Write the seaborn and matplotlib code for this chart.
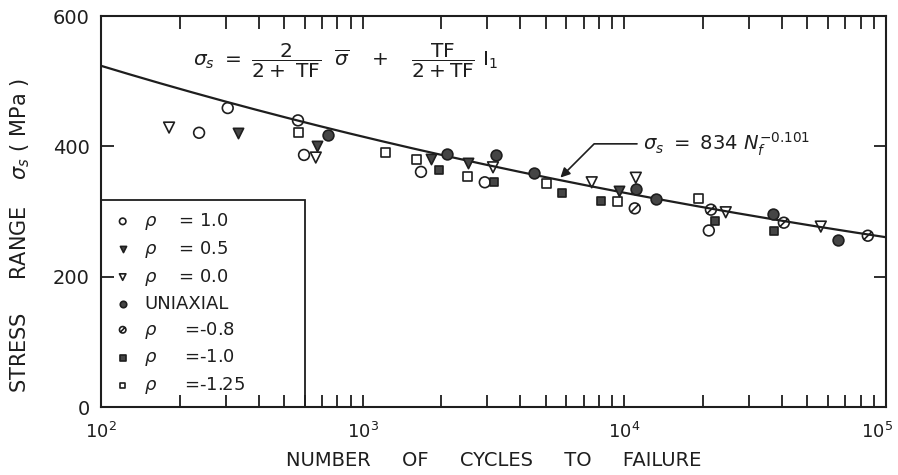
import numpy as np
import pandas as pd
import matplotlib
matplotlib.use("Agg")
import matplotlib.pyplot as plt
import matplotlib.transforms as mtransforms
from matplotlib.path import Path
from matplotlib.ticker import LogLocator, FixedLocator, NullFormatter
import seaborn as sns

# ---- data ----
rho10_N = [237, 305, 566, 597, 1671, 2930, 21050]
rho10_S = [421, 459, 440, 387, 361, 345, 271]
rho05_N = [334, 669, 1824, 2525, 9530]
rho05_S = [421, 400, 381, 374, 332]
rho00_N = [182, 662, 3150, 7510, 11070, 24430, 56400]
rho00_S = [429, 383, 368, 345, 352, 299, 277]
uni_N = [736, 2100, 3228, 4520, 11070, 13210, 36990, 65500]
uni_S = [418, 389, 387, 360, 334, 319, 297, 256]
rm08_N = [10970, 21440, 40740, 85300]
rm08_S = [305, 303, 283, 263]
rm10_N = [1960, 3175, 5780, 8140, 22190, 37330]
rm10_S = [364, 345, 328, 317, 285, 270]
rm125_N = [571, 1227, 1611, 2525, 5060, 9460, 19270]
rm125_S = [421, 391, 380, 354, 343, 315, 320]

labels = [r"$\rho$    = 1.0", r"$\rho$    = 0.5", r"$\rho$    = 0.0", "UNIAXIAL",
          r"$\rho$     =-0.8", r"$\rho$     =-1.0", r"$\rho$     =-1.25"]

x_ticks = [1e2, 1e3, 1e4, 1e5]
x_ticklabels = [r"$10^2$", r"$10^3$", r"$10^4$", r"$10^5$"]
y_ticks = [0, 200, 400, 600]

fit_A = 834
fit_b = -0.101

sns.set_style("ticks")
plt.rcParams["font.family"] = ["DejaVu Sans"]
plt.rcParams["mathtext.fontset"] = "dejavusans"

INK = "#1e1e1e"
FILL = "#454545"

fig = plt.figure(figsize=(8.98, 4.75), dpi=100)
ax = fig.add_axes([0.1125, 0.143, 0.874, 0.823])

# fitted line
Ngrid = np.logspace(2, 5, 200)
line_df = pd.DataFrame({"N": Ngrid, "S": fit_A * Ngrid ** fit_b})
sns.lineplot(data=line_df, x="N", y="S", color=INK, lw=1.6, ax=ax, legend=False)

slashed = Path.make_compound_path(
    Path.unit_circle(),
    Path([[-0.72, -0.72], [0.72, 0.72]], [Path.MOVETO, Path.LINETO]))

series = [
    (rho10_N, rho10_S, "o", "none", 60),
    (rho05_N, rho05_S, "v", FILL, 55),
    (rho00_N, rho00_S, "v", "none", 60),
    (uni_N, uni_S, "o", FILL, 60),
    (rm08_N, rm08_S, slashed, "none", 60),
    (rm10_N, rm10_S, "s", FILL, 40),
    (rm125_N, rm125_S, "s", "none", 42),
]
for (N, S, mk, fc, size), lab in zip(series, labels):
    df = pd.DataFrame({"N": N, "S": S})
    sns.scatterplot(data=df, x="N", y="S", marker=mk, s=size, facecolor=fc,
                    edgecolor=INK, linewidth=1.2, ax=ax, label=lab, zorder=3)

ax.set_xscale("log")
ax.set_xlim(100, 1e5)
ax.set_ylim(0, 600)
ax.yaxis.set_major_locator(FixedLocator(y_ticks))
ax.set_xticks(x_ticks, labels=x_ticklabels)
ax.xaxis.set_minor_locator(LogLocator(base=10, subs=np.arange(2, 10)))
ax.xaxis.set_minor_formatter(NullFormatter())
ax.tick_params(which="both", direction="in", top=True, right=True, colors=INK,
               labelsize=14, width=1.3)
ax.tick_params(which="major", length=9, pad=8)
ax.tick_params(axis="x", which="major", pad=11, labelsize=13)
ax.tick_params(which="minor", length=9)
for sp in ax.spines.values():
    sp.set_color(INK)
    sp.set_linewidth(1.5)

ax.set_xlabel("NUMBER     OF     CYCLES     TO     FAILURE", fontsize=14, color=INK,
              labelpad=6)
ax.set_ylabel(r"STRESS     RANGE    $\sigma_s$ ( MPa )", fontsize=15, color=INK)
ax.yaxis.set_label_coords(-0.088, 0.44)

# formula text
ax.text(225, 531,
        r"$\sigma_s\ =\ \dfrac{2}{2+\ \mathrm{TF}}\ \ \overline{\sigma}\ \ \ +\ \ \ \dfrac{\mathrm{TF}}{2+\mathrm{TF}}\ \mathrm{I}_1$",
        fontsize=14.5, color=INK, va="center", ha="left")

# fit annotation
Ntip = 5700
ax.annotate(r"$\sigma_s\ =\ 834\ N_f^{-0.101}$",
            xy=(Ntip, fit_A * Ntip ** fit_b + 4), xytext=(11800, 404),
            fontsize=14, color=INK, va="center", ha="left",
            arrowprops=dict(arrowstyle="-|>", color=INK, lw=1.2,
                            connectionstyle="angle,angleA=0,angleB=45,rad=0",
                            shrinkA=2, shrinkB=0, mutation_scale=14))

leg = ax.legend(loc="lower left", bbox_to_anchor=(0, 0, 0.26, 1), mode="expand",
                borderaxespad=0, frameon=True, fancybox=False, edgecolor=INK,
                framealpha=1, fontsize=13, labelspacing=0.38, handletextpad=0.6,
                handlelength=1.2, markerscale=0.6, borderpad=0.6)
leg.get_frame().set_linewidth(1.3)
leg.set_zorder(0.3)
for t in leg.get_texts():
    t.set_color(INK)

fig.canvas.draw()
last = ax.xaxis.get_major_ticks()[-1].label1
last.set_transform(last.get_transform() +
                   mtransforms.ScaledTranslation(-0.09, 0, fig.dpi_scale_trans))

fig.savefig("out.png", dpi=100, facecolor="white")
